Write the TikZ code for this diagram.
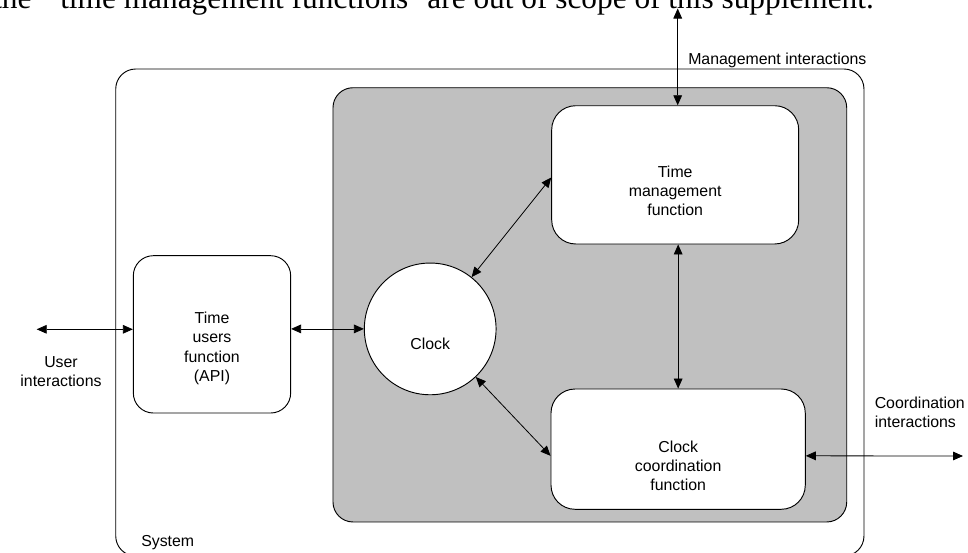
\documentclass[tikz,border=0pt]{standalone}
\usepackage{fontspec}
\setmainfont{Liberation Sans}
\newfontfamily\bodyserif{Liberation Serif}
\usetikzlibrary{arrows.meta}
\begin{document}
\begin{tikzpicture}[x=0.75pt,y=-0.75pt,
  panel/.style={draw=black, line width=0.7pt, rounded corners=15pt, inner sep=0pt},
  funcbox/.style={panel, fill=white, rounded corners=18pt},
  lbl/.style={font=\fontsize{11.9}{14.5}\selectfont, align=center, inner sep=0pt},
  link/.style={draw=black, line width=0.6pt, {Triangle[length=7.5pt,width=6.5pt]}-{Triangle[length=7.5pt,width=6.5pt]}}]
\useasboundingbox (0,0) rectangle (968,553);
\clip (0,0) rectangle (968,553);

% running text of the page above the figure
\node[anchor=base west, inner sep=0pt, font=\bodyserif\fontsize{23.5}{28}\selectfont] (pagetext) at (-7,8.5)
  {the ``time management functions'' are out of scope of this supplement.};

% system and the shaded time-function area
\node[panel, fill=white, minimum width=561.2pt, minimum height=365.25pt] (sys) at (489.85,312.5) {};
\node[panel, fill={rgb,255:red,192;green,192;blue,192}, minimum width=385.3pt, minimum height=325.7pt] (core) at (589.85,304.85) {};

% functional blocks
\node[funcbox, minimum width=185.25pt, minimum height=103.7pt] (tm) at (675.2,174.85) {};
\node[funcbox, minimum width=190.7pt, minimum height=90.2pt] (cc) at (678.15,449.15) {};
\node[funcbox, rounded corners=15pt, minimum width=118pt, minimum height=118pt] (api) at (212,334.35) {};
\node[draw=black, line width=0.7pt, fill=white, circle, minimum size=98.8pt, inner sep=0pt] (clock) at (430.2,328.9) {};

% block texts
\node[lbl] (tmtext) at ([yshift=-12pt]tm.center) {Time\\management\\function};
\node[lbl] (cctext) at ([yshift=-12.5pt]cc.center) {Clock\\coordination\\function};
\node[lbl] (apitext) at ([yshift=-10.5pt]api.center) {Time\\users\\function\\(API)};
\node[lbl] (clocktext) at ([yshift=-11.5pt]clock.center) {Clock};

% outside labels
\node[lbl, anchor=west] (systext) at (141,543) {System};
\node[lbl, anchor=west] (mgmttext) at (688,60) {Management interactions};
\node[lbl] (usertext) at (61,371.7) {User\\interactions};
\node[lbl, anchor=west, align=left] (coordtext) at (874.5,412.5) {Coordination\\interactions};

% free ends of the external interactions
\coordinate (userend) at (36.7,329.3);
\coordinate (mgmtend) at (677.7,8.5);
\coordinate (coordend) at (963,456);

% connectors
\draw[link] (userend) -- (api.west |- userend);
\draw[link] (api.east |- clock.west) -- (clock.west);
\draw[link] (clock) -- ([yshift=-2pt]tm.west);
\draw[link] (clock) -- ([yshift=-5pt]cc.west);
\draw[link] (mgmtend) -- (mgmtend |- tm.north);
\draw[link] (cc.north |- tm.south) -- (cc.north);
\draw[link] ([yshift=-5pt]cc.east) -- (coordend);
\end{tikzpicture}
\end{document}
